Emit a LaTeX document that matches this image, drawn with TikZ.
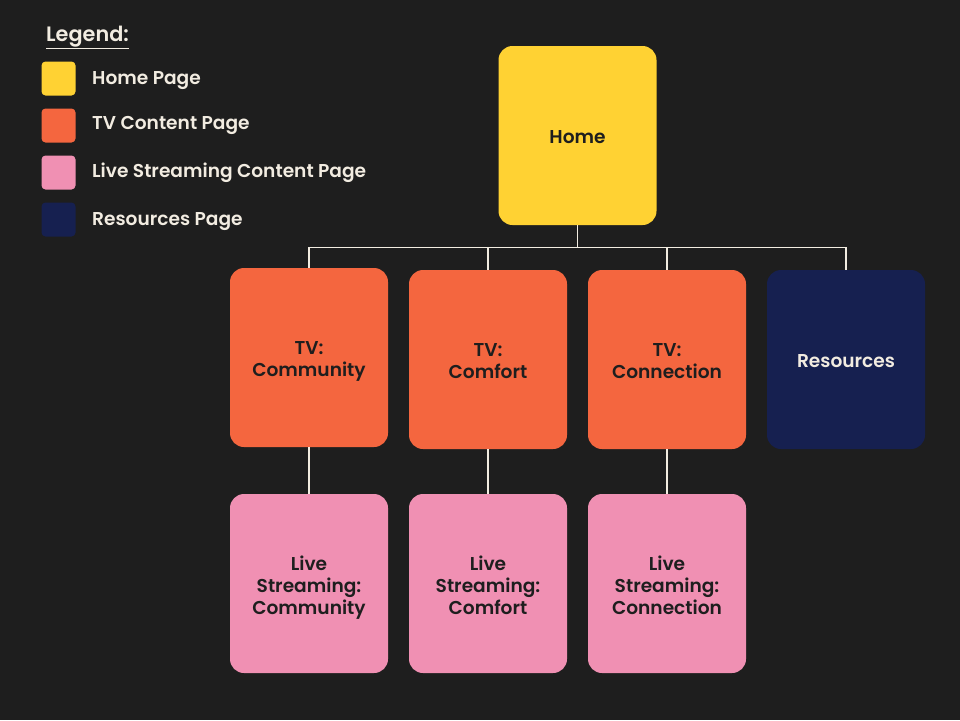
\documentclass[tikz,border=0pt]{standalone}
\usepackage{fontspec}
\setmainfont{Poppins}[UprightFont={Poppins Medium},BoldFont={Poppins SemiBold}]
\definecolor{bg}{HTML}{1E1E1E}
\definecolor{cyellow}{HTML}{FFD233}
\definecolor{corange}{HTML}{F4663F}
\definecolor{cpink}{HTML}{F090B3}
\definecolor{cnavy}{HTML}{162050}
\definecolor{cream}{HTML}{F2ECE1}
\definecolor{dark}{HTML}{1E1E1E}
\newcommand{\mydepth}{\vphantom{y}}
\tikzset{
  page/.style={rounded corners=14pt, minimum width=158pt, minimum height=179pt, inner sep=0pt},
  pagetext/.style={align=center, font=\fontsize{18.6}{22}\selectfont\bfseries, text=dark, inner sep=0pt, yshift=-4pt},
  homebox/.style={page, fill=cyellow},
  tvbox/.style={page, fill=corange},
  livebox/.style={page, fill=cpink},
  resbox/.style={page, fill=cnavy},
  swatch/.style={rounded corners=4pt, minimum width=34pt, minimum height=34pt, inner sep=0pt},
  legtext/.style={anchor=base west, text=cream, font=\fontsize{18.6}{22}\selectfont\bfseries, inner sep=0pt},
  link/.style={draw=cream, line width=1.8pt}
}
\begin{document}
\begin{tikzpicture}[x=1pt,y=-1pt]
\fill[bg] (0,0) rectangle (960,720);
\useasboundingbox (0,0) rectangle (960,720);
% legend
\node[anchor=base west, text=cream, font=\fontsize{20.8}{22}\selectfont\bfseries, inner sep=0pt] (legend) at (46,41.5) {\underline{Legend:}};
\node[swatch, fill=cyellow] (sw1) at (58.5,78.5) {};
\node[swatch, fill=corange] (sw2) at (58.5,125.5) {};
\node[swatch, fill=cpink] (sw3) at (58.5,172.5) {};
\node[swatch, fill=cnavy] (sw4) at (58.5,219.5) {};
\node[legtext] (l1) at (92,84) {Home Page};
\node[legtext] (l2) at (92,129) {TV Content Page};
\node[legtext] (l3) at (92,177) {Live Streaming Content Page};
\node[legtext] (l4) at (92,225) {Resources Page};
% pages
\node[homebox, label={[pagetext]center:{Home\mydepth}}] (home) at (577.5,135.5) {};
\node[tvbox, label={[pagetext]center:{TV:\\Community\mydepth}}] (tv1) at (309,357.5) {};
\node[tvbox, label={[pagetext]center:{TV:\\Comfort\mydepth}}] (tv2) at (488,359.5) {};
\node[tvbox, label={[pagetext]center:{TV:\\Connection\mydepth}}] (tv3) at (667,359.5) {};
\node[resbox, label={[pagetext, text=cream]center:{Resources\mydepth}}] (res) at (846,359.5) {};
\node[livebox, label={[pagetext]center:{Live\\Streaming:\\Community\mydepth}}] (ls1) at (309,583.5) {};
\node[livebox, label={[pagetext]center:{Live\\Streaming:\\Comfort\mydepth}}] (ls2) at (488,583.5) {};
\node[livebox, label={[pagetext]center:{Live\\Streaming:\\Connection\mydepth}}] (ls3) at (667,583.5) {};
% connectors
\coordinate (bus) at (577.5,247.5);
\draw[link] (home.south) -- (bus);
\draw[link] (bus) -| (tv1.north);
\draw[link] (bus) -| (tv2.north);
\draw[link] (bus) -| (tv3.north);
\draw[link] (bus) -| (res.north);
\draw[link] (tv1.south) -- (ls1.north);
\draw[link] (tv2.south) -- (ls2.north);
\draw[link] (tv3.south) -- (ls3.north);
\end{tikzpicture}
\end{document}
